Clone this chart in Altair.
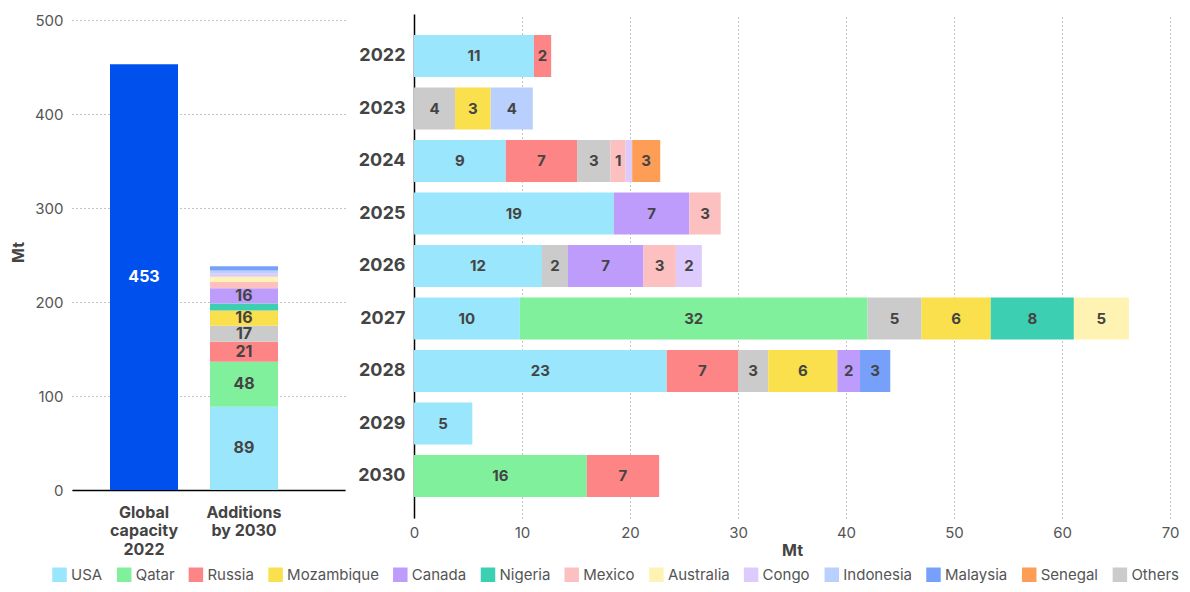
import altair as alt
import pandas as pd

# ---------------- data ----------------
countries = ["USA", "Qatar", "Russia", "Mozambique", "Canada", "Nigeria", "Mexico",
             "Australia", "Congo", "Indonesia", "Malaysia", "Senegal", "Others"]
colors = ["#9ae6fc", "#80f09c", "#fd8585", "#fae04c", "#bd9cfb", "#3ccfb1", "#fdc0c0",
          "#fff3b3", "#dccbfc", "#b9cffd", "#76a0fa", "#fd9d56", "#cbcbcb"]

years = ["2022", "2023", "2024", "2025", "2026", "2027", "2028", "2029", "2030"]

seg_year = ["2022", "2022",
            "2023", "2023", "2023",
            "2024", "2024", "2024", "2024", "2024", "2024",
            "2025", "2025", "2025",
            "2026", "2026", "2026", "2026", "2026",
            "2027", "2027", "2027", "2027", "2027", "2027",
            "2028", "2028", "2028", "2028", "2028", "2028",
            "2029",
            "2030", "2030"]
seg_country = ["USA", "Russia",
               "Others", "Mozambique", "Indonesia",
               "USA", "Russia", "Others", "Mexico", "Congo", "Senegal",
               "USA", "Canada", "Mexico",
               "USA", "Others", "Canada", "Mexico", "Congo",
               "USA", "Qatar", "Others", "Mozambique", "Nigeria", "Australia",
               "USA", "Russia", "Others", "Mozambique", "Canada", "Malaysia",
               "USA",
               "Qatar", "Russia"]
seg_value = [11.1, 1.6,
             3.8, 3.3, 3.9,
             8.5, 6.6, 3.1, 1.4, 0.6, 2.6,
             18.5, 7.0, 2.9,
             11.85, 2.4, 7.0, 3.0, 2.4,
             9.8, 32.2, 5.0, 6.4, 7.7, 5.1,
             23.4, 6.6, 2.8, 6.4, 2.1, 2.8,
             5.4,
             16.0, 6.7]

cats = ["Global|capacity|2022", "Additions|by 2030"]
global_value = 453
add_country = ["USA", "Qatar", "Russia", "Others", "Mozambique", "Nigeria", "Canada",
               "Mexico", "Australia", "Congo", "Indonesia", "Malaysia"]
add_value = [88.5, 48, 21.3, 16.9, 16.2, 7.5, 16.2, 6.8, 5.5, 3.8, 2.8, 4.6]

# ---------------- frames ----------------
right_df = pd.DataFrame({"year": seg_year, "country": seg_country, "value": seg_value})
right_df["ord"] = range(len(right_df))

glob_df = pd.DataFrame({"cat": [cats[0]], "value": [global_value]})
add_df = pd.DataFrame({"cat": cats[1], "country": add_country, "value": add_value})
add_df["ord"] = range(len(add_df))

FONT = "Inter"
LABEL_C = "#444444"
TICK_C = "#555555"

color_scale = alt.Scale(domain=countries, range=colors)
legend = alt.Legend(title=None, orient="none", legendX=-20, legendY=553,
                    direction="horizontal")

# ---------------- left panel ----------------
xleft = alt.X("cat:N", sort=cats,
              scale=alt.Scale(domain=cats, paddingInner=0.32, paddingOuter=0.525, align=0.362),
              axis=alt.Axis(title=None, labelExpr="split(datum.label, '|')",
                            labelFontSize=16, labelFontWeight="bold", labelColor=LABEL_C,
                            labelLineHeight=18.5, labelAngle=0, domainColor="#000000",
                            domainWidth=1.5, ticks=False, labelPadding=14, grid=False,
                            labelBaseline="top"))
yaxis_left = alt.Axis(values=[0, 100, 200, 300, 400, 500], title="Mt", titleFontSize=16,
                      titleFontWeight="bold", titleColor=LABEL_C, labelFontSize=15,
                      labelColor=TICK_C, domain=False, ticks=False, labelPadding=9,
                      gridDash=[1, 3], gridColor="#888888", titlePadding=8)
yscale_left = alt.Scale(domain=[0, 506.4], nice=False)

glob_bar = alt.Chart(glob_df).mark_bar(color="#0050EE").encode(
    x=xleft,
    y=alt.Y("value:Q", scale=yscale_left, axis=yaxis_left),
)
glob_txt = alt.Chart(glob_df).mark_text(font=FONT, fontWeight="bold", fontSize=16,
                                        color="#ffffff").encode(
    x=xleft,
    y=alt.Y("mid:Q", scale=yscale_left),
    text=alt.Text("value:Q", format=".0f"),
).transform_calculate(mid="datum.value / 2")

add_base = alt.Chart(add_df).transform_stack(
    stack="value", groupby=["cat"], as_=["v0", "v1"], sort=[alt.SortField("ord")]
).transform_calculate(
    mid="(datum.v0 + datum.v1) / 2",
    lbl="datum.value >= 10 ? format(datum.value, '.0f') : ''",
)
add_bar = add_base.mark_bar().encode(
    x=xleft,
    y=alt.Y("v0:Q", scale=yscale_left),
    y2="v1:Q",
    color=alt.Color("country:N", scale=color_scale, legend=legend),
)
add_txt = add_base.mark_text(font=FONT, fontWeight="bold", fontSize=16, color=LABEL_C).encode(
    x=xleft,
    y=alt.Y("mid:Q", scale=yscale_left),
    text="lbl:N",
)

left = alt.layer(glob_bar, add_bar, glob_txt, add_txt).properties(width=273, height=476)

# ---------------- right panel ----------------
right_base = alt.Chart(right_df).transform_stack(
    stack="value", groupby=["year"], as_=["v0", "v1"], sort=[alt.SortField("ord")]
).transform_calculate(
    mid="(datum.v0 + datum.v1) / 2",
    lbl="datum.value >= 1 ? format(datum.value, '.0f') : ''",
)
yright = alt.Y("year:N", sort=years,
               scale=alt.Scale(domain=years, paddingInner=0.2, paddingOuter=0.4),
               axis=alt.Axis(title=None, labelFontSize=18, labelFontWeight="bold",
                             labelColor=LABEL_C, ticks=False, domainColor="#000000",
                             domainWidth=1.5, labelPadding=9, grid=False))
xscale_right = alt.Scale(domain=[0, 70])
right_bar = right_base.mark_bar().encode(
    y=yright,
    x=alt.X("v0:Q", scale=xscale_right,
            axis=alt.Axis(values=[0, 10, 20, 30, 40, 50, 60, 70], title="Mt", titleFontSize=16,
                          titleFontWeight="bold", titleColor=LABEL_C, labelFontSize=15,
                          labelColor=TICK_C, domain=False, ticks=False, gridDash=[1, 3],
                          gridColor="#888888", labelPadding=7, titlePadding=2,
                          labelFlush=False)),
    x2="v1:Q",
    color=alt.Color("country:N", scale=color_scale, legend=legend),
)
right_txt = right_base.mark_text(font=FONT, fontWeight="bold", fontSize=15, color=LABEL_C).encode(
    y=yright,
    x=alt.X("mid:Q", scale=xscale_right),
    text="lbl:N",
)
right = alt.layer(right_bar, right_txt).properties(width=756, height=504)

chart = alt.hconcat(left, right, spacing=12).properties(
    padding={"left": 2, "top": 5, "right": 0, "bottom": 0}
).configure(
    font=FONT
).configure_view(stroke=None).configure_legend(
    symbolType="square", symbolSize=210, symbolStrokeWidth=0,
    labelFontSize=15, labelColor=TICK_C, labelFont=FONT, columnPadding=13.7, labelOffset=4
)

chart.save("out.html", embed_options={"renderer": "svg", "actions": False})
